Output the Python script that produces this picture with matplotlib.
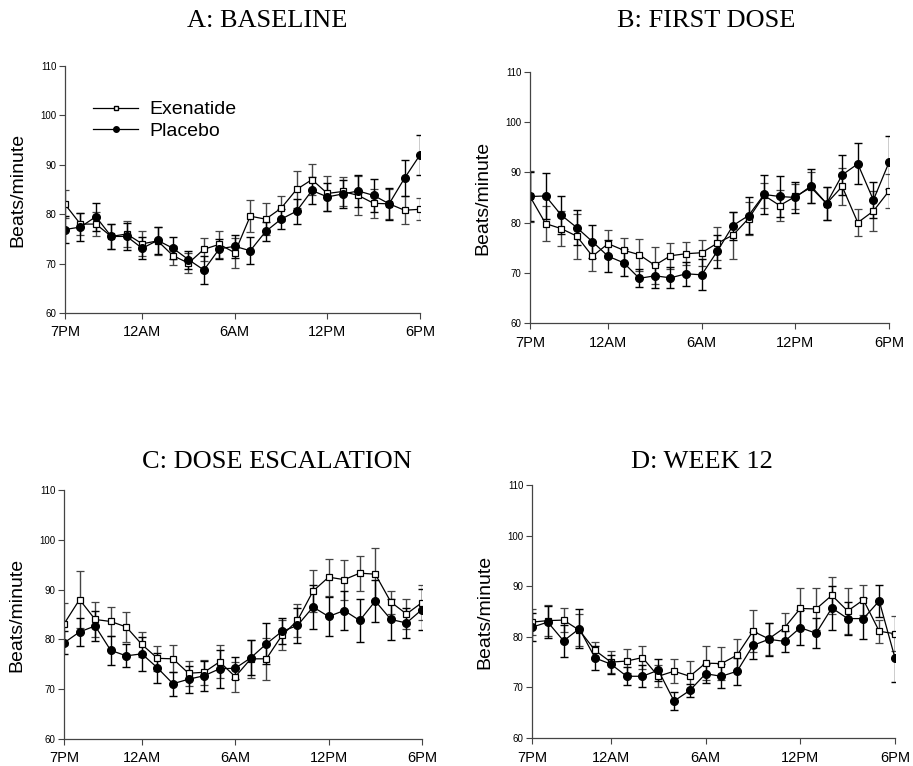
import numpy as np
import matplotlib
matplotlib.use('Agg')
import matplotlib.pyplot as plt
from matplotlib.lines import Line2D

# hourly time points, 7PM through 6PM
hours = list(range(24))
tick_pos = [0, 5, 11, 17, 23]
tick_labels = ['7PM', '12AM', '6AM', '12PM', '6PM']

titles = ['A: BASELINE', 'B: FIRST DOSE', 'C: DOSE ESCALATION', 'D: WEEK 12']

# A: baseline
exe_a = [82.0, 78.0, 78.0, 75.5, 76.0, 74.0, 74.6, 71.6, 70.1, 72.9, 73.9, 72.2,
         79.6, 79.0, 81.2, 85.0, 87.0, 84.2, 84.6, 83.8, 82.2, 82.1, 80.8, 81.0]
exe_a_err = [2.8, 2.3, 2.5, 2.5, 2.7, 2.5, 2.8, 1.9, 2.0, 2.3, 2.8, 3.0,
             3.3, 3.3, 2.5, 3.7, 3.2, 3.5, 3.0, 4.0, 3.0, 3.0, 2.8, 2.2]
pla_a = [76.9, 77.4, 79.5, 75.5, 75.5, 73.1, 74.7, 73.1, 70.8, 68.7, 73.0, 73.5,
         72.6, 76.5, 79.0, 80.6, 84.8, 83.5, 84.1, 84.7, 83.8, 82.1, 87.3, 92.0]
pla_a_err = [2.8, 2.8, 2.8, 2.5, 2.8, 2.2, 2.7, 2.2, 1.8, 2.8, 2.0, 2.3,
             2.7, 2.0, 2.0, 2.5, 2.7, 2.8, 2.8, 3.3, 3.3, 3.2, 3.6, 4.1]

# B: first dose
exe_b = [85.2, 79.8, 78.8, 77.3, 73.3, 75.8, 74.5, 73.6, 71.5, 73.4, 73.8, 74.0,
         75.9, 77.5, 80.8, 85.4, 83.4, 85.2, 87.0, 83.8, 87.2, 80.0, 82.3, 86.3]
exe_b_err = [5.0, 3.5, 3.5, 4.5, 3.0, 2.8, 2.5, 3.2, 3.7, 2.6, 2.3, 2.6,
             3.3, 4.7, 3.3, 2.5, 3.0, 2.5, 3.0, 3.3, 3.7, 2.7, 4.0, 3.4]
pla_b = [85.2, 85.3, 81.5, 79.0, 76.2, 73.3, 72.0, 68.9, 69.4, 69.0, 69.8, 69.6,
         74.3, 79.4, 81.4, 85.6, 85.2, 85.0, 87.3, 83.8, 89.5, 91.7, 84.5, 92.0]
pla_b_err = [4.8, 4.6, 3.7, 3.5, 3.3, 3.2, 2.7, 1.8, 2.4, 2.1, 2.4, 3.1,
             3.3, 2.8, 3.7, 3.8, 4.0, 3.0, 3.4, 3.3, 4.0, 4.1, 3.5, 5.3]

# C: dose escalation
exe_c = [83.1, 88.0, 84.0, 83.6, 82.5, 79.0, 76.2, 76.1, 73.2, 73.4, 75.5, 72.5,
         76.1, 76.1, 80.8, 83.8, 89.7, 92.5, 92.0, 93.3, 93.1, 87.5, 85.1, 87.4]
exe_c_err = [4.2, 5.8, 3.5, 3.0, 3.0, 2.5, 2.5, 2.7, 2.5, 2.5, 3.3, 3.0,
             3.8, 4.2, 3.0, 3.3, 4.2, 3.7, 4.0, 3.5, 5.2, 2.3, 3.1, 3.6]
pla_c = [79.3, 81.5, 82.7, 77.8, 76.7, 77.1, 74.3, 71.1, 72.0, 72.7, 74.1, 74.2,
         76.3, 79.1, 81.6, 82.8, 86.5, 84.6, 85.8, 83.8, 87.7, 84.0, 83.3, 86.0]
pla_c_err = [2.3, 2.8, 3.0, 2.9, 2.3, 3.4, 3.0, 2.4, 2.7, 3.0, 3.8, 2.2,
             3.5, 4.1, 2.6, 3.6, 4.4, 4.0, 4.0, 4.4, 4.3, 4.2, 3.1, 4.1]

# D: week 12
exe_d = [82.9, 83.2, 83.3, 81.3, 77.3, 75.0, 75.2, 75.9, 72.2, 73.2, 72.2, 74.8,
         74.7, 76.4, 81.1, 79.6, 81.8, 85.6, 85.5, 88.2, 85.1, 87.3, 81.1, 80.6]
exe_d_err = [2.5, 3.0, 2.4, 3.2, 1.7, 2.2, 2.4, 2.3, 2.2, 2.4, 3.1, 3.3,
             3.3, 3.2, 4.1, 3.2, 3.0, 4.1, 4.1, 3.6, 4.6, 2.9, 2.3, 3.5]
pla_d = [81.9, 82.9, 79.2, 81.6, 75.8, 74.6, 72.2, 72.2, 73.4, 67.3, 69.4, 72.7,
         72.2, 73.2, 78.3, 79.5, 79.1, 81.8, 80.7, 85.7, 83.6, 83.6, 87.1, 75.8]
pla_d_err = [2.8, 3.1, 3.2, 3.9, 2.4, 1.9, 1.8, 2.2, 2.2, 1.7, 1.3, 1.9,
             2.4, 2.7, 2.6, 3.2, 2.1, 3.4, 3.0, 4.3, 3.2, 4.0, 3.2, 4.7]

exe_all = [(exe_a, exe_a_err), (exe_b, exe_b_err), (exe_c, exe_c_err), (exe_d, exe_d_err)]
pla_all = [(pla_a, pla_a_err), (pla_b, pla_b_err), (pla_c, pla_c_err), (pla_d, pla_d_err)]

W, H = 913, 766
# axes boxes in pixels: left, top, right, bottom
boxes = [(65, 66, 420, 313), (530, 72, 889, 323),
         (64, 490, 422, 739), (532, 485, 895, 738)]
# title centres in pixels
title_xy = [(267, 21), (706, 21), (277, 462), (702, 462)]

fig = plt.figure(figsize=(W / 100, H / 100), dpi=100)

for i in range(4):
    l, t, r, b = boxes[i]
    ax = fig.add_axes([l / W, 1 - b / H, (r - l) / W, (b - t) / H])
    ex, ex_err = exe_all[i]
    pl, pl_err = pla_all[i]
    ax.errorbar(hours, ex, yerr=ex_err, color='black', ecolor='#444444', elinewidth=1,
                capsize=3, capthick=1, lw=0.9, marker='s', ms=5, mfc='white',
                mec='black', mew=0.9)
    ax.errorbar(hours, pl, yerr=pl_err, color='black', ecolor='black', elinewidth=1,
                capsize=3, capthick=1, lw=0.9, marker='o', ms=5.5, mfc='black',
                mec='black')
    ax.set_xlim(0, 23)
    ax.set_ylim(60, 110)
    ax.set_yticks([60, 70, 80, 90, 100, 110])
    ax.set_xticks(tick_pos)
    ax.set_xticklabels(tick_labels, fontsize=10.5, family='Liberation Sans')
    for lab in ax.get_yticklabels():
        lab.set_fontsize(7)
        lab.set_family('Liberation Sans')
    ax.tick_params(direction='out', length=4, width=0.8, color='#444444', pad=2)
    ax.tick_params(axis='x', pad=5)
    ax.spines['top'].set_visible(False)
    ax.spines['right'].set_visible(False)
    for s in ['left', 'bottom']:
        ax.spines[s].set_color('#444444')
        ax.spines[s].set_linewidth(0.9)
    ax.set_ylabel('Beats/minute', fontsize=14, family='Liberation Sans', labelpad=10)
    tx, ty = title_xy[i]
    fig.text(tx / W, 1 - ty / H, titles[i], fontsize=19, family='Liberation Serif',
             ha='center', va='center')
    if i == 0:
        handles = [Line2D([], [], color='black', lw=0.9, marker='s', ms=3.5,
                          mfc='white', mec='black'),
                   Line2D([], [], color='black', lw=0.9, marker='o', ms=4,
                          mfc='black', mec='black')]
        ax.legend(handles, ['Exenatide', 'Placebo'], loc='upper left',
                  bbox_to_anchor=(0.03, 0.93), frameon=False,
                  prop={'family': 'Liberation Sans', 'size': 14},
                  handlelength=2.3, handletextpad=0.6, labelspacing=0.2)

plt.savefig('out.png', dpi=100)
